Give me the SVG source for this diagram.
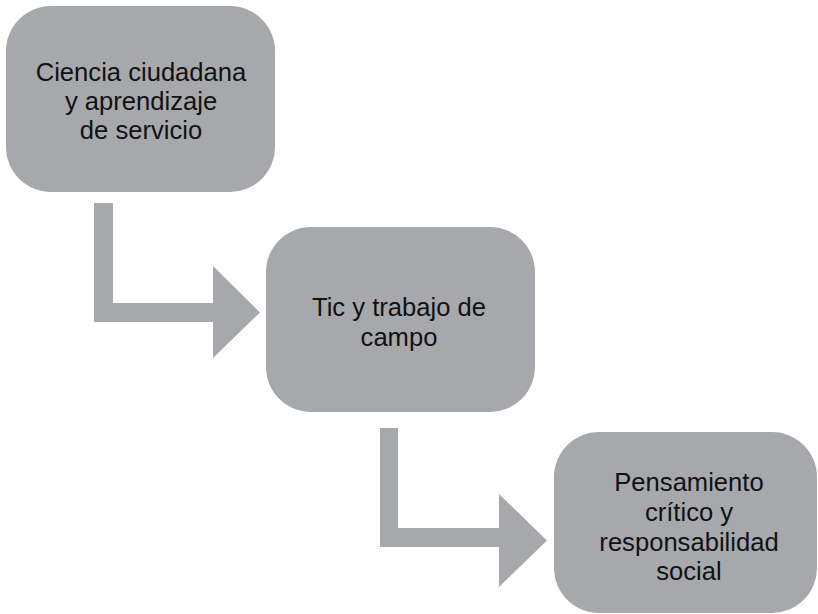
<svg xmlns="http://www.w3.org/2000/svg" width="818" height="614" viewBox="0 0 818 614">
<style>
.box{fill:#a7a8ac;}
.conn{fill:#a7a8ac;}
.t{font-family:"Liberation Sans",Arial,sans-serif;font-size:25.6px;fill:#111;text-anchor:middle;}
</style>
<rect width="818" height="614" fill="#ffffff"/>
<g id="connectors">
<path class="conn" d="M94,203 H113 V303 H213 V266 L260,312.5 L213,358 V322 H94 Z"/>
<path class="conn" d="M380,428 H398 V528 H499 V494 L547,540.5 L499,587 V547 H380 Z"/>
</g>
<g id="node1">
<rect class="box" x="6" y="6" width="269" height="186" rx="45" ry="45"/>
<text class="t" x="141" y="81">Ciencia ciudadana</text>
<text class="t" x="141" y="110">y aprendizaje</text>
<text class="t" x="141" y="139">de servicio</text>
</g>
<g id="node2">
<rect class="box" x="266" y="227" width="269" height="185" rx="45" ry="45"/>
<text class="t" x="399" y="316">Tic y trabajo de</text>
<text class="t" x="399" y="346">campo</text>
</g>
<g id="node3">
<rect class="box" x="554" y="432" width="263" height="181" rx="45" ry="45"/>
<text class="t" x="689" y="491">Pensamiento</text>
<text class="t" x="689" y="521">crítico y</text>
<text class="t" x="689" y="551">responsabilidad</text>
<text class="t" x="689" y="580">social</text>
</g>
</svg>
